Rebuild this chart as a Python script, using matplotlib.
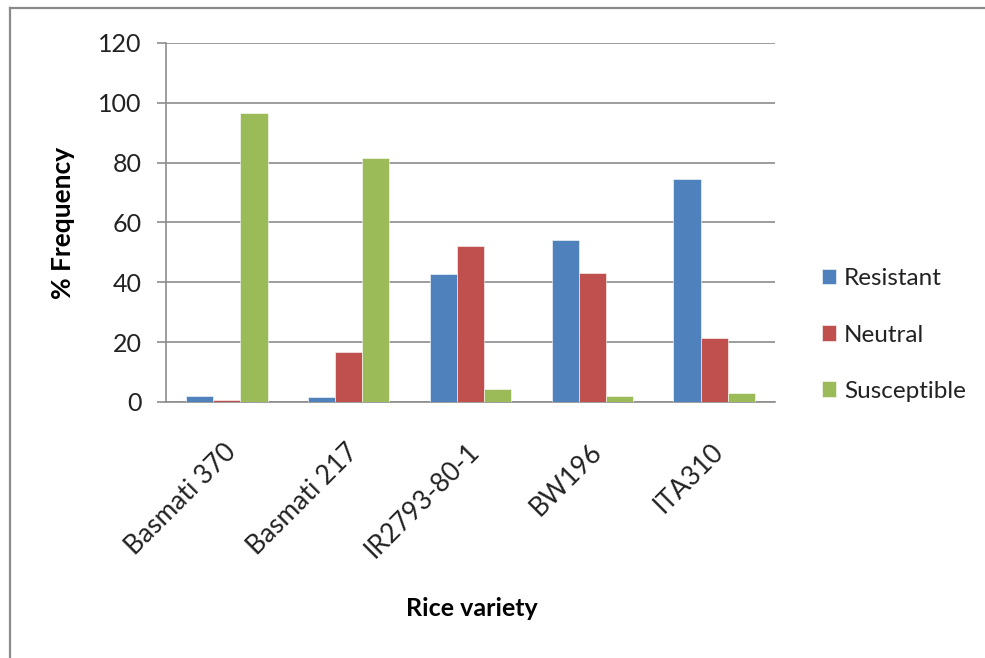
import matplotlib

matplotlib.use("Agg")
import matplotlib.pyplot as plt
import matplotlib.transforms as mtrans
import numpy as np
from matplotlib.lines import Line2D

plt.rcParams["font.family"] = ["Lato", "DejaVu Sans"]

varieties = ["Basmati 370", "Basmati 217", "IR2793-80-1", "BW196", "ITA310"]
resistant = [2.1, 1.7, 42.8, 54.3, 74.7]
neutral = [0.8, 16.7, 52.3, 43.1, 21.3]
susceptible = [96.5, 81.5, 4.4, 2.0, 3.0]
series_names = ["Resistant", "Neutral", "Susceptible"]
colors = ["#4F81BD", "#C0504D", "#9BBB59"]
yticks = [0, 20, 40, 60, 80, 100, 120]

W, H = 985, 658
fig = plt.figure(figsize=(W / 100, H / 100), dpi=100)
ax = fig.add_axes([166 / W, 1 - 402 / H, (775 - 166) / W, (402 - 43) / H])

x = np.arange(len(varieties))
bw = 0.223
for i, (vals, name, col) in enumerate(zip([resistant, neutral, susceptible],
                                          series_names, colors)):
    ax.bar(x + (i - 1) * bw, vals, width=bw, color=col, label=name,
           edgecolor="white", linewidth=0.4, zorder=3)

ax.set_xlim(-0.5, len(varieties) - 0.5)
ax.set_ylim(0, 120)
ax.set_yticks(yticks)
ax.yaxis.grid(True, color="#8c8c8c", lw=1.2, zorder=0)
ax.set_axisbelow(True)
for s in ("top", "right"):
    ax.spines[s].set_visible(False)
for s in ("left", "bottom"):
    ax.spines[s].set_color("#8c8c8c")
    ax.spines[s].set_linewidth(1.2)
ax.tick_params(axis="y", length=6.5, width=1.2, color="#8c8c8c", pad=11,
               labelsize=18, labelcolor="#222222")
ax.tick_params(axis="x", length=0, pad=33)
ax.set_xticks(x)
ax.set_xticklabels(varieties, rotation=45, ha="right", va="center",
                   rotation_mode="anchor", fontsize=19, color="#222222")
shift = mtrans.ScaledTranslation(4 / 72, 0, fig.dpi_scale_trans)
for lab in ax.get_xticklabels():
    lab.set_transform(lab.get_transform() + shift)

fig.text(63 / W, 1 - 223 / H, "% Frequency", rotation=90, fontsize=19,
         fontweight="bold", ha="center", va="center")
fig.text(472 / W, 1 - 608 / H, "Rice variety", fontsize=18,
         fontweight="bold", ha="center", va="center")

fig.legend(loc="center left", bbox_to_anchor=(800 / W, 1 - 335 / H),
           frameon=False, fontsize=17.5, labelspacing=1.45, handlelength=0.6,
           handleheight=0.6, handletextpad=0.3, labelcolor="#222222")

# outer chart frame (cut off at right and bottom like the source image)
frame = dict(color="#8a8a8a", lw=1.6, transform=fig.transFigure, clip_on=False)
fig.add_artist(Line2D([10 / W, 10 / W], [0, 1 - 8 / H], **frame))
fig.add_artist(Line2D([10 / W, 1], [1 - 8 / H, 1 - 8 / H], **frame))

fig.savefig("out.png", dpi=100)
